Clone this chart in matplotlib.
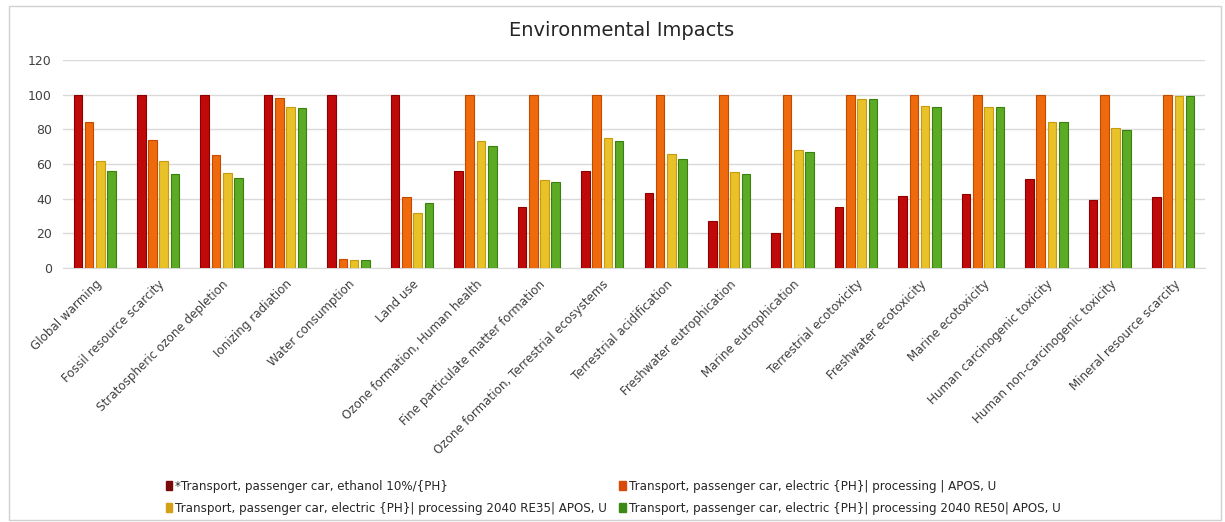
import matplotlib
matplotlib.use("Agg")
import matplotlib.pyplot as plt
import numpy as np
from matplotlib.patches import Rectangle, Patch

categories = [
    "Global warming", "Fossil resource scarcity", "Stratospheric ozone depletion",
    "Ionizing radiation", "Water consumption", "Land use",
    "Ozone formation, Human health", "Fine particulate matter formation",
    "Ozone formation, Terrestrial ecosystems", "Terrestrial acidification",
    "Freshwater eutrophication", "Marine eutrophication", "Terrestrial ecotoxicity",
    "Freshwater ecotoxicity", "Marine ecotoxicity", "Human carcinogenic toxicity",
    "Human non-carcinogenic toxicity", "Mineral resource scarcity",
]

ethanol = [100, 100, 100, 100, 100, 100, 56, 35, 56, 43.5, 27, 20, 35, 41.5, 42.5, 51.5, 39.5, 41]
electric = [84, 74, 65, 98, 5, 41, 100, 100, 100, 100, 100, 100, 100, 100, 100, 100, 100, 100]
re35 = [62, 62, 55, 93, 4.5, 32, 73, 51, 75, 65.5, 55.5, 68, 97.5, 93.5, 93, 84.5, 80.5, 99]
re50 = [56, 54, 52, 92.5, 4.5, 37.5, 70.5, 49.5, 73, 63, 54, 67, 97.5, 93, 93, 84.5, 79.5, 99]

series_labels = [
    "*Transport, passenger car, ethanol 10%/{PH}",
    "Transport, passenger car, electric {PH}| processing | APOS, U",
    "Transport, passenger car, electric {PH}| processing 2040 RE35| APOS, U",
    "Transport, passenger car, electric {PH}| processing 2040 RE50| APOS, U",
]
bar_colors = ["#C00A0A", "#EE6A0C", "#E8C228", "#5CAB24"]
edge_colors = ["#8A0000", "#C24A00", "#C89A10", "#3A8010"]
legend_colors = ["#7A0A0A", "#D84A0A", "#D4A017", "#3C8A14"]

W, H = 1225, 522
fig = plt.figure(figsize=(W / 100, H / 100), dpi=100)
fig.patches.append(Rectangle((9 / W, 2 / H), (1221 - 9) / W, (516 - 2) / H,
                             transform=fig.transFigure, fill=False,
                             edgecolor="#D0D0D0", linewidth=1))

ax = fig.add_axes([63 / W, 1 - 268 / H, (1205 - 63) / W, (268 - 60) / H])
x = np.arange(len(categories))
step = 0.177
width = 0.135
all_series = [ethanol, electric, re35, re50]
for i, vals in enumerate(all_series):
    ax.bar(x + (i - 1.5) * step, vals, width, color=bar_colors[i],
           edgecolor=edge_colors[i], linewidth=0.8, zorder=3,
           label=series_labels[i])

ax.set_xlim(-0.5, len(categories) - 0.5)
ax.set_ylim(0, 120)
ax.set_yticks(np.arange(0, 121, 20))
ax.yaxis.grid(True, color="#D9D9D9", linewidth=1, zorder=0)
for s in ["top", "right", "left"]:
    ax.spines[s].set_visible(False)
ax.spines["bottom"].set_color("#D9D9D9")
ax.tick_params(axis="both", length=0, colors="#404040", labelsize=9)
ax.tick_params(axis="y", pad=8)
ax.tick_params(axis="x", pad=7)
ax.set_xticks(x)
ax.set_xticklabels(categories, rotation=45, ha="right", rotation_mode="anchor",
                   fontsize=8.6, color="#404040")

fig.text(622 / W, 1 - 30 / H, "Environmental Impacts", ha="center", va="center",
         fontsize=14, color="#262626")

leg_handles = [Patch(facecolor=legend_colors[i], edgecolor=legend_colors[i]) for i in range(4)]
order = [0, 2, 1, 3]
leg = fig.legend([leg_handles[i] for i in order], [series_labels[i] for i in order],
                 ncol=2, loc="upper left", bbox_to_anchor=(155 / W, 1 - 469 / H),
                 frameon=False, fontsize=8.6, handlelength=0.55, handleheight=0.8,
                 handletextpad=0.25, columnspacing=1.0, labelspacing=0.75,
                 labelcolor="#262626")

fig.savefig("out.png", dpi=100)
